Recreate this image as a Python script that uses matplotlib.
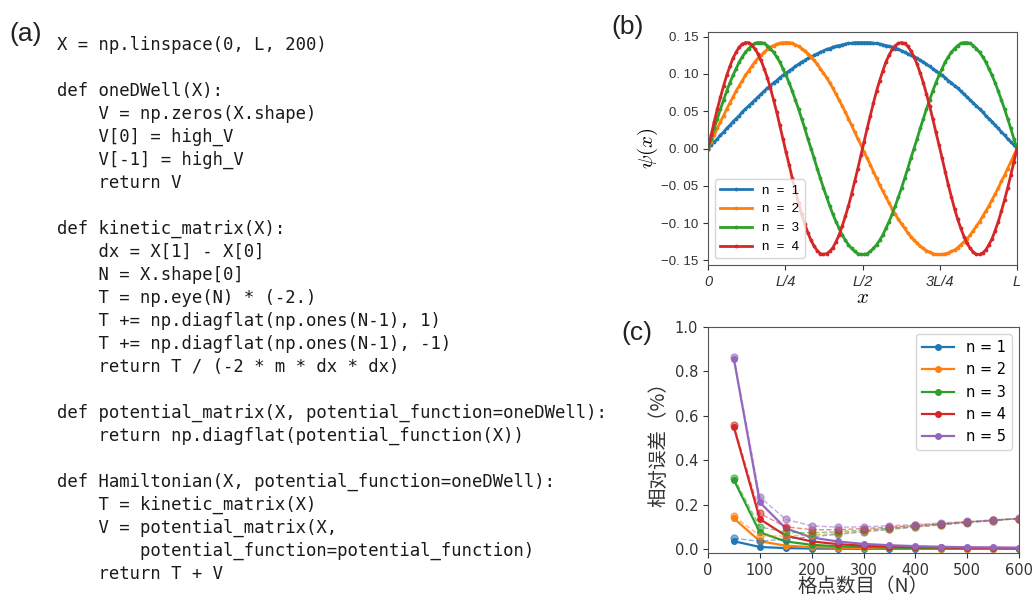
import numpy as np
import matplotlib
matplotlib.use("Agg")
import matplotlib.pyplot as plt
from matplotlib.ticker import FuncFormatter

plt.rcParams["mathtext.fontset"] = "cm"

# ---------------- data ----------------
code_lines = [
    "X = np.linspace(0, L, 200)",
    "",
    "def oneDWell(X):",
    "    V = np.zeros(X.shape)",
    "    V[0] = high_V",
    "    V[-1] = high_V",
    "    return V",
    "",
    "def kinetic_matrix(X):",
    "    dx = X[1] - X[0]",
    "    N = X.shape[0]",
    "    T = np.eye(N) * (-2.)",
    "    T += np.diagflat(np.ones(N-1), 1)",
    "    T += np.diagflat(np.ones(N-1), -1)",
    "    return T / (-2 * m * dx * dx)",
    "",
    "def potential_matrix(X, potential_function=oneDWell):",
    "    return np.diagflat(potential_function(X))",
    "",
    "def Hamiltonian(X, potential_function=oneDWell):",
    "    T = kinetic_matrix(X)",
    "    V = potential_matrix(X,",
    "        potential_function=potential_function)",
    "    return T + V",
]

# wavefunction values (units of 1e-3), 100 grid points each
psi1 = [0, 5, 9, 13, 18, 22, 27, 31, 36, 40, 44, 49, 53, 57, 61, 65, 69, 73, 77, 81,
        84, 88, 91, 95, 98, 101, 104, 107, 110, 113, 116, 118, 121, 123, 125, 127, 129, 131, 133, 134,
        136, 137, 138, 139, 140, 141, 141, 142, 142, 142,
        142, 142, 142, 141, 141, 140, 139, 138, 137, 136, 134, 133, 131, 129, 127, 125, 123, 121, 118, 116,
        113, 110, 107, 104, 101, 98, 95, 91, 88, 84, 81, 77, 73, 69, 65, 61, 57, 53, 49, 44,
        40, 36, 31, 27, 22, 18, 13, 9, 5, 0]
psi2 = [0, 9, 18, 27, 36, 44, 53, 61, 69, 77, 84, 91, 98, 104, 110, 116, 121, 125, 129, 133,
        136, 138, 140, 141, 142, 142, 142, 141, 139, 137, 134, 131, 127, 123, 118, 113, 107, 101, 95, 88,
        81, 73, 65, 57, 49, 40, 31, 22, 13, 5,
        -5, -13, -22, -31, -40, -49, -57, -65, -73, -81, -88, -95, -101, -107, -113, -118, -123, -127, -131, -134,
        -137, -139, -141, -142, -142, -142, -141, -140, -138, -136, -133, -129, -125, -121, -116, -110, -104, -98, -91, -84,
        -77, -69, -61, -53, -44, -36, -27, -18, -9, 0]
psi3 = [0, 13, 27, 40, 53, 65, 77, 88, 98, 107, 116, 123, 129, 134, 138, 141, 142, 142, 141, 138,
        134, 129, 123, 116, 107, 98, 88, 77, 65, 53, 40, 27, 13, 0,
        -13, -27, -40, -53, -65, -77, -88, -98, -107, -116, -123, -129, -134, -138, -141, -142, -142, -141, -138, -134,
        -129, -123, -116, -107, -98, -88, -77, -65, -53, -40, -27, -13, 0,
        13, 27, 40, 53, 65, 77, 88, 98, 107, 116, 123, 129, 134, 138, 141, 142, 142, 141, 138, 134,
        129, 123, 116, 107, 98, 88, 77, 65, 53, 40, 27, 13, 0]
psi4 = [0, 18, 36, 53, 69, 84, 98, 110, 121, 129, 136, 140, 142, 142, 139, 134, 127, 118, 107, 95,
        81, 65, 49, 31, 13,
        -5, -22, -40, -57, -73, -88, -101, -113, -123, -131, -137, -141, -142, -141, -138, -133, -125, -116, -104, -91,
        -77, -61, -44, -27, -9,
        9, 27, 44, 61, 77, 91, 104, 116, 125, 133, 138, 141, 142, 141, 137, 131, 123, 113, 101, 88,
        73, 57, 40, 22, 5,
        -13, -31, -49, -65, -81, -95, -107, -118, -127, -134, -139, -142, -142, -140, -136, -129, -121, -110, -98, -84,
        -69, -53, -36, -18, 0]
psi_labels = ["n  =  1", "n  =  2", "n  =  3", "n  =  4"]
x_tick_labels = ["0", "L/4", "L/2", "3L/4", "L"]

# relative error (%) vs grid points
grid_N = [50, 100, 150, 200, 250, 300, 350, 400, 450, 500, 550, 600]
err_labels = ["n = 1", "n = 2", "n = 3", "n = 4", "n = 5"]
err_n1 = [0.035, 0.009, 0.004, 0.002, 0.0015, 0.001, 0.001, 0.0008, 0.0007, 0.0006, 0.0005, 0.0004]
err_n2 = [0.138, 0.035, 0.015, 0.009, 0.006, 0.004, 0.003, 0.0025, 0.002, 0.0017, 0.0014, 0.0012]
err_n3 = [0.310, 0.075, 0.034, 0.019, 0.012, 0.009, 0.006, 0.005, 0.004, 0.003, 0.003, 0.002]
err_n4 = [0.548, 0.135, 0.060, 0.034, 0.022, 0.015, 0.011, 0.008, 0.007, 0.005, 0.005, 0.004]
err_n5 = [0.855, 0.210, 0.093, 0.052, 0.034, 0.023, 0.017, 0.013, 0.010, 0.008, 0.007, 0.006]
errd_n1 = [0.048, 0.035, 0.045, 0.055, 0.066, 0.077, 0.088, 0.099, 0.109, 0.119, 0.128, 0.137]
errd_n2 = [0.148, 0.060, 0.058, 0.063, 0.071, 0.081, 0.091, 0.100, 0.110, 0.120, 0.128, 0.137]
errd_n3 = [0.320, 0.100, 0.075, 0.073, 0.078, 0.085, 0.094, 0.103, 0.112, 0.120, 0.129, 0.137]
errd_n4 = [0.558, 0.160, 0.100, 0.087, 0.087, 0.092, 0.098, 0.106, 0.114, 0.122, 0.130, 0.137]
errd_n5 = [0.865, 0.235, 0.133, 0.105, 0.098, 0.100, 0.105, 0.110, 0.117, 0.124, 0.131, 0.138]

colors = ["#1f77b4", "#ff7f0e", "#2ca02c", "#d62728", "#9467bd"]

# ---------------- figure ----------------
W, H = 1035, 601
fig = plt.figure(figsize=(W / 100, H / 100), dpi=100)

def fx(px):
    return px / W

def fy(py):
    return 1 - py / H

# panel (a): code text
fig.text(fx(9), fy(34), "(a)", fontsize=19, family="Liberation Sans", va="center", ha="left", color="#222222")
for i, line in enumerate(code_lines):
    if line:
        fig.text(fx(57), fy(45 + 23 * i), line, family="DejaVu Sans Mono", fontsize=12.4,
                 va="center", ha="left", color="#1a1a1a")

# panel (b)
axb = fig.add_axes([fx(708), fy(265), fx(1017) - fx(708), fy(32) - fy(265)])
for ys, lab, c in zip([psi1, psi2, psi3, psi4], psi_labels, colors):
    vals = np.array(ys) / 1000.0
    axb.plot(np.arange(len(vals)), vals, marker=".", markersize=3.5, lw=2.0, color=c, label=lab)
npts = len(psi1) - 1
axb.set_xlim(0, npts)
axb.set_xticks([0, npts / 4, npts / 2, 3 * npts / 4, npts])
axb.set_xticklabels(x_tick_labels, fontstyle="italic", family="Liberation Sans", fontsize=10.5)
axb.set_yticks([-0.15, -0.10, -0.05, 0.0, 0.05, 0.10, 0.15])
axb.yaxis.set_major_formatter(FuncFormatter(lambda v, p: ("%.2f" % v).replace(".", ". ").replace("-", "\u2212")))
axb.tick_params(axis="y", labelsize=9.5)
for t in axb.get_yticklabels():
    t.set_family("Liberation Sans")
axb.tick_params(colors="#333333", length=3.5)
axb.set_ylabel(r"$\psi(x)$", fontsize=15, labelpad=1)
axb.set_xlabel(r"$x$", fontsize=15, labelpad=-1)
for s in axb.spines.values():
    s.set_color("#555555")
axb.legend(loc="lower left", handlelength=2.4, borderaxespad=0.5,
           prop={"family": "Liberation Sans", "size": 9.5})
fig.text(fx(611), fy(27), "(b)", fontsize=19, family="Liberation Sans", va="center", ha="left", color="#222222")

# panel (c)
axc = fig.add_axes([fx(708), fy(553), fx(1019) - fx(708), fy(327) - fy(553)])
solid = [err_n1, err_n2, err_n3, err_n4, err_n5]
dashed = [errd_n1, errd_n2, errd_n3, errd_n4, errd_n5]
for ys, lab, c in zip(solid, err_labels, colors):
    axc.plot(grid_N, ys, marker="o", markersize=4, lw=1.6, color=c, label=lab)
for ys, c in zip(dashed, colors):
    axc.plot(grid_N, ys, marker="o", markersize=5, lw=1.0, ls="--", color=c, alpha=0.55)
axc.set_xlim(0, 600)
axc.set_ylim(-0.018, 1.0)
axc.set_xticks([0, 100, 200, 300, 400, 500, 600])
axc.set_yticks([0.0, 0.2, 0.4, 0.6, 0.8, 1.0])
axc.tick_params(labelsize=10.5, colors="#333333", length=3.5)
cjk = ["Noto Sans CJK SC", "DejaVu Sans"]
axc.set_xlabel("格点数目（N）", fontsize=14, family=cjk, labelpad=-1, color="#333333")
axc.set_ylabel("相对误差（%）", fontsize=14, family=cjk, labelpad=4, color="#333333")
for s in axc.spines.values():
    s.set_color("#555555")
axc.legend(loc="upper right", fontsize=10.5, handlelength=2.2)
fig.text(fx(621), fy(333), "(c)", fontsize=19, family="Liberation Sans", va="center", ha="left", color="#222222")

fig.savefig("out.png", dpi=100, facecolor="white")
